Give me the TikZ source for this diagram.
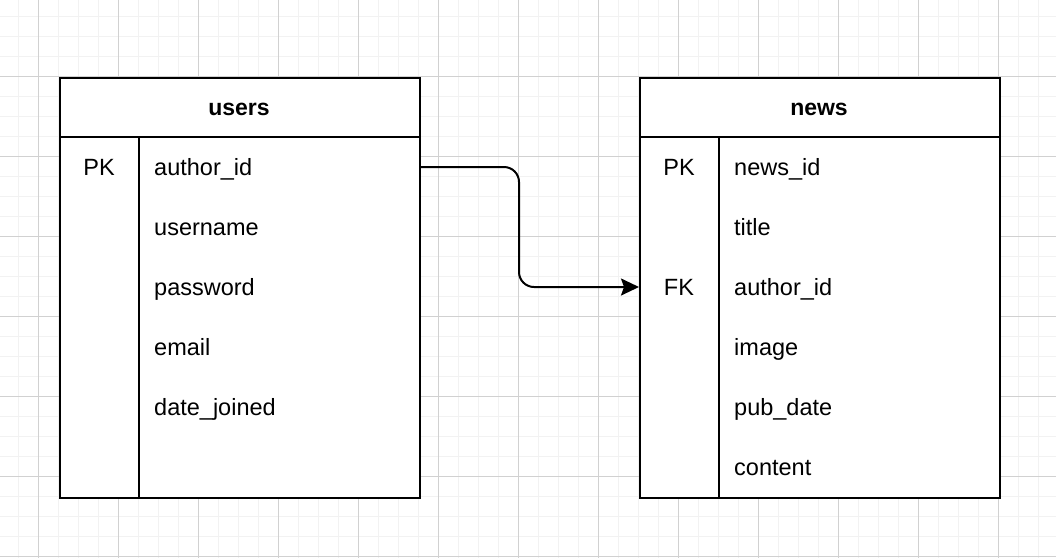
\documentclass[tikz,border=0pt]{standalone}
\usepackage{fontspec}
\setmainfont{Liberation Sans}
\usetikzlibrary{arrows.meta}
\tikzset{
  minorgrid/.style={draw=black!5, line width=1pt},
  majorgrid/.style={draw=black!18, line width=1pt},
  tablebox/.style={draw=black, line width=2pt, fill=white, rectangle, minimum width=360pt, minimum height=420pt, inner sep=0pt, anchor=north west},
  sepline/.style={draw=black, line width=2pt},
  title/.style={font=\fontsize{23}{27}\selectfont\bfseries, inner sep=0pt, anchor=base},
  field/.style={font=\fontsize{23.5}{28}\selectfont, inner sep=0pt, anchor=base west},
  keylbl/.style={font=\fontsize{23.5}{28}\selectfont, inner sep=0pt, anchor=base},
  relation/.style={draw=black, line width=2pt, rounded corners=15pt, -{Stealth[length=18pt,width=17pt,inset=3pt]}}
}
\begin{document}
\begin{tikzpicture}[x=1pt,y=-1pt]
\useasboundingbox (0,0) rectangle (1056,558);
\fill[white] (0,0) rectangle (1056,558);
% grid
\foreach \x in {18,38,...,1056} \draw[minorgrid] (\x,0) -- (\x,558);
\foreach \y in {16,36,...,558} \draw[minorgrid] (0,\y) -- (1056,\y);
\foreach \x in {38,118,...,1056} \draw[majorgrid] (\x,0) -- (\x,558);
\foreach \y in {76,156,...,558} \draw[majorgrid] (0,\y) -- (1056,\y);

% users table
\node[tablebox] (users) at (59,77) {};
\draw[sepline] (59,137) -- (419,137);
\draw[sepline] (139,137) -- (139,497);
\node[title] (usersT) at (239,115.5) {users};
\node[keylbl] (uk1) at (99,175.5) {PK};
\node[field] (u1) at (154,175.5) {author\_id};
\node[field] (u2) at (154,235.5) {username};
\node[field] (u3) at (154,295.5) {password};
\node[field] (u4) at (154,355.5) {email};
\node[field] (u5) at (154,415.5) {date\_joined};

% news table
\node[tablebox] (news) at (639,77) {};
\draw[sepline] (639,137) -- (999,137);
\draw[sepline] (719,137) -- (719,497);
\node[title] (newsT) at (819,115.5) {news};
\node[keylbl] (nk1) at (679,175.5) {PK};
\node[keylbl] (nk3) at (679,295.5) {FK};
\node[field] (n1) at (734,175.5) {news\_id};
\node[field] (n2) at (734,235.5) {title};
\node[field] (n3) at (734,295.5) {author\_id};
\node[field] (n4) at (734,355.5) {image};
\node[field] (n5) at (734,415.5) {pub\_date};
\node[field] (n6) at (734,475.5) {content};

% relation
\coordinate (src) at (419,167);
\coordinate (dst) at (639,287);
\draw[relation] (src) -- (src -| 519,0) -- (dst -| 519,0) -- (dst);
\end{tikzpicture}
\end{document}
